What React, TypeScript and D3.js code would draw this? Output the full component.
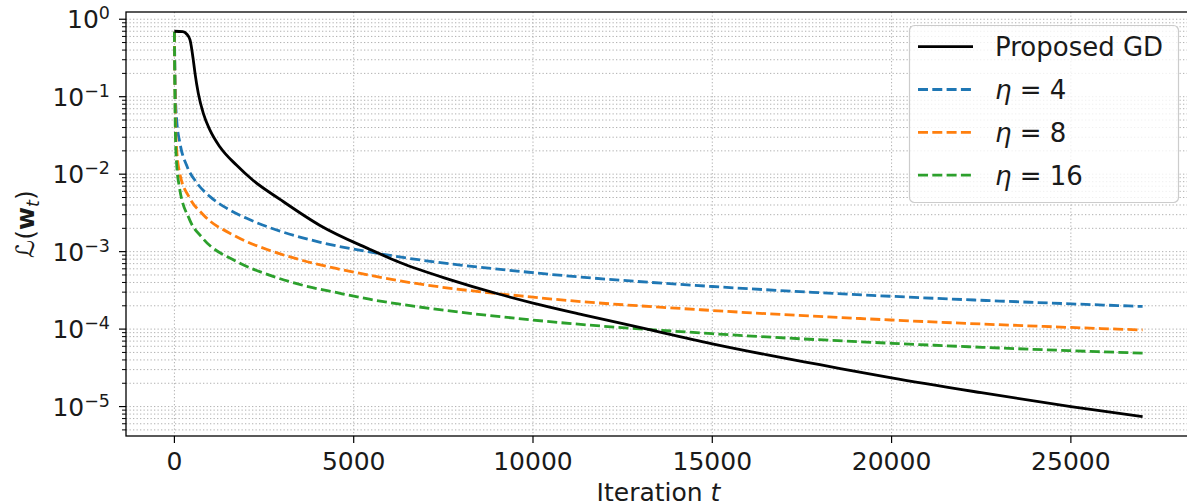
import { useEffect, useRef } from 'react';
import * as d3 from 'd3';

const W = 1187;
const H = 504;
// right spine sits just past the photographed frame
const MARGIN = { top: 12, right: -4, bottom: 68, left: 126 };
const FONT = '"DejaVu Sans", sans-serif';

const X_DOMAIN: [number, number] = [-1350, 28350];
const Y_DOMAIN: [number, number] = [4.17e-6, 1.24];
const X_TICKS = [0, 5000, 10000, 15000, 20000, 25000];
const Y_EXPONENTS = [0, -1, -2, -3, -4, -5];

// values
const gdIters = [0, 230, 340, 435, 527, 575, 667, 806, 992, 1271, 1737, 2190, 2945, 4060, 5455, 6290, 7680, 8990, 10000, 11400, 12970, 15000, 16500, 18000, 20000, 22500, 25000, 27000];
const gdLoss = [0.70, 0.69, 0.645, 0.54, 0.297, 0.2, 0.11, 0.0608, 0.037, 0.0224, 0.013, 0.00834, 0.00473, 0.00218, 0.001067, 0.000724, 0.000436, 0.000288, 0.000217, 0.000153, 0.000105, 0.0000646, 0.0000468, 0.0000347, 0.0000234, 0.0000151, 0.00001, 0.0000074];

const eta4Iters = [0, 10, 30, 64, 156, 343, 622, 993, 1459, 2016, 2945, 4043, 5440, 6280, 10000, 15000, 18000, 20000, 25000, 27000];
const eta4Loss = [0.69, 0.3, 0.1, 0.05, 0.025, 0.0129, 0.00776, 0.00513, 0.00363, 0.00269, 0.00184, 0.00133, 0.00099, 0.000855, 0.000535, 0.000355, 0.000295, 0.000265, 0.000212, 0.000196];

const eta8Iters = [0, 10, 30, 60, 140, 420, 790, 1720, 2650, 3580, 4510, 5440, 6290, 10000, 15000, 20000, 25000, 27000];
const eta8Loss = [0.69, 0.25, 0.05, 0.022, 0.0107, 0.00497, 0.00304, 0.00157, 0.00104, 0.000769, 0.000606, 0.000497, 0.00042, 0.000258, 0.000174, 0.000131, 0.000105, 0.0000975];

const eta16Iters = [0, 10, 30, 60, 140, 420, 790, 1720, 2650, 3580, 4510, 5440, 6290, 10000, 15000, 20000, 25000, 27000];
const eta16Loss = [0.69, 0.15, 0.03, 0.014, 0.00678, 0.00261, 0.00149, 0.000752, 0.000498, 0.000368, 0.000297, 0.000243, 0.00021, 0.000131, 0.0000873, 0.0000656, 0.0000526, 0.0000489];

const SERIES = [
  { label: 'Proposed GD', eta: null, iters: gdIters, loss: gdLoss, color: '#000000', dashed: false },
  { label: 'eta4', eta: '4', iters: eta4Iters, loss: eta4Loss, color: '#1f77b4', dashed: true },
  { label: 'eta8', eta: '8', iters: eta8Iters, loss: eta8Loss, color: '#ff7f0e', dashed: true },
  { label: 'eta16', eta: '16', iters: eta16Iters, loss: eta16Loss, color: '#2ca02c', dashed: true },
];

const LINE_W = 2.8;
const DASH = '10,4.3';

export default function App() {
  const svgRef = useRef<SVGSVGElement>(null);

  useEffect(() => {
    if (!svgRef.current) return;
    const svg = d3.select(svgRef.current);
    svg.selectAll('*').remove();

    const x = d3.scaleLinear().domain(X_DOMAIN).range([MARGIN.left, W - MARGIN.right]);
    const y = d3.scaleLog().domain(Y_DOMAIN).range([H - MARGIN.bottom, MARGIN.top]);
    const [x0, x1] = x.range();
    const [yb, yt] = y.range();

    // grid
    const grid = svg.append('g').attr('stroke', '#b0b0b0').attr('stroke-width', 1).attr('stroke-dasharray', '1.3,2.2');
    const minor: number[] = [];
    for (let k = -6; k <= 0; k++) for (let m = 2; m <= 9; m++) {
      const v = m * Math.pow(10, k);
      if (v > Y_DOMAIN[0] && v < Y_DOMAIN[1]) minor.push(v);
    }
    const major = Y_EXPONENTS.map(e => Math.pow(10, e));
    grid.selectAll('.ym').data(minor).join('line')
      .attr('x1', x0).attr('x2', x1).attr('y1', d => y(d)).attr('y2', d => y(d));
    grid.selectAll('.yM').data(major).join('line')
      .attr('x1', x0).attr('x2', x1).attr('y1', d => y(d)).attr('y2', d => y(d));
    grid.selectAll('.xM').data(X_TICKS).join('line')
      .attr('x1', d => x(d)).attr('x2', d => x(d)).attr('y1', yt).attr('y2', yb);

    // curves
    const line = d3.line<[number, number]>()
      .x(d => x(d[0])).y(d => y(d[1]))
      .curve(d3.curveMonotoneX);
    // dashed first, black on top like the figure
    [SERIES[1], SERIES[2], SERIES[3], SERIES[0]].forEach(s => {
      const pts = s.iters.map((t, i) => [t, s.loss[i]] as [number, number]);
      svg.append('path').attr('d', line(pts))
        .attr('fill', 'none').attr('stroke', s.color).attr('stroke-width', LINE_W)
        .attr('stroke-dasharray', s.dashed ? DASH : null);
    });

    // spines
    svg.append('rect').attr('x', x0).attr('y', yt).attr('width', x1 - x0).attr('height', yb - yt)
      .attr('fill', 'none').attr('stroke', '#000').attr('stroke-width', 1.3);

    // x ticks
    const xt = svg.append('g');
    X_TICKS.forEach(t => {
      xt.append('line').attr('x1', x(t)).attr('x2', x(t)).attr('y1', yb).attr('y2', yb + 7)
        .attr('stroke', '#000').attr('stroke-width', 1.2);
      xt.append('text').attr('x', x(t)).attr('y', 470).attr('text-anchor', 'middle')
        .style('font-family', FONT).style('font-size', '25px').attr('fill', '#1a1a1a').text(String(t));
    });

    // y ticks
    const yg = svg.append('g');
    minor.forEach(v => {
      yg.append('line').attr('x1', x0 - 4).attr('x2', x0).attr('y1', y(v)).attr('y2', y(v))
        .attr('stroke', '#000').attr('stroke-width', 1);
    });
    Y_EXPONENTS.forEach(e => {
      const yy = y(Math.pow(10, e));
      yg.append('line').attr('x1', x0 - 7).attr('x2', x0).attr('y1', yy).attr('y2', yy)
        .attr('stroke', '#000').attr('stroke-width', 1.2);
      const txt = yg.append('text').attr('x', 110).attr('y', yy + 9.2).attr('text-anchor', 'end')
        .style('font-family', FONT).style('font-size', '25px').attr('fill', '#1a1a1a');
      txt.append('tspan').text('10');
      txt.append('tspan').attr('dy', -9).style('font-size', '17.5px')
        .text(e === 0 ? '0' : `\u2212${-e}`);
    });

    // axis labels
    const xl = svg.append('text').attr('x', (x0 + x1) / 2).attr('y', 501).attr('text-anchor', 'middle')
      .style('font-family', FONT).style('font-size', '25px').attr('fill', '#1a1a1a');
    xl.append('tspan').text('Iteration ');
    xl.append('tspan').style('font-style', 'italic').text('t');

    const yl = svg.append('text').attr('transform', `translate(34,${(yt + yb) / 2}) rotate(-90)`)
      .attr('text-anchor', 'middle')
      .style('font-family', FONT).style('font-size', '25px').attr('fill', '#1a1a1a');
    yl.append('tspan').style('font-style', 'italic').text('\u2112');
    yl.append('tspan').text('(');
    yl.append('tspan').style('font-weight', 'bold').text('w');
    yl.append('tspan').attr('dy', 5).style('font-size', '17.5px').style('font-style', 'italic').text('t');
    yl.append('tspan').attr('dy', -5).text(')');

    // legend
    const lg = svg.append('g');
    lg.append('rect').attr('x', 909.5).attr('y', 25.5).attr('width', 269).attr('height', 177).attr('rx', 5)
      .attr('fill', 'rgba(255,255,255,0.8)').attr('stroke', '#cccccc').attr('stroke-width', 1.2);
    SERIES.forEach((s, i) => {
      const cy = 46.7 + i * 42.8;
      lg.append('line').attr('x1', 918).attr('x2', 973).attr('y1', cy).attr('y2', cy)
        .attr('stroke', s.color).attr('stroke-width', LINE_W)
        .attr('stroke-dasharray', s.dashed ? DASH : null);
      const t = lg.append('text').attr('x', 995).attr('y', cy + 9.5)
        .style('font-family', FONT).style('font-size', '26px').attr('fill', '#1a1a1a');
      if (s.eta) {
        t.append('tspan').style('font-style', 'italic').text('\u03b7');
        t.append('tspan').text(` = ${s.eta}`);
      } else {
        t.text(s.label);
      }
    });
  }, []);

  return (
    <svg ref={svgRef} width={W} height={H}
      style={{ position: 'fixed', left: 0, top: 0, background: '#fff' }} />
  );
}
